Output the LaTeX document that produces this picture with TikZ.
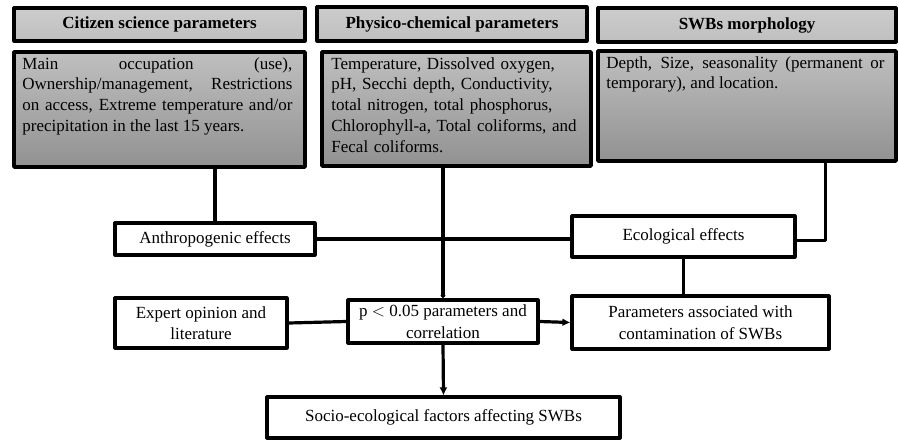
\documentclass[tikz,border=0pt]{standalone}
\usepackage{fontspec}
\setmainfont{Liberation Serif}
\usetikzlibrary{calc}
\usetikzlibrary{arrows.meta}

\begin{document}
\begin{tikzpicture}[x=1pt, y=-1pt, line cap = round, line join = round, >={Latex[length=8pt, width=8pt]}]
\tikzstyle{headbox}=[draw=black, line width=3.2pt, top color=gray!40, bottom color=gray!50, inner sep=0pt, font=\fontsize{17}{20}\selectfont\bfseries]
\tikzstyle{bodybox}=[draw=black, line width=3.6pt, top color=gray!50, bottom color=gray!86, inner sep=0pt]
\tikzstyle{bodytext}=[anchor=north west, inner sep=0pt, font=\fontsize{17}{20.8}\selectfont]
\tikzstyle{stepbox}=[draw=black, line width=3.2pt, fill=white, inner sep=0pt, align=center, font=\fontsize{17}{21.5}\selectfont]
\tikzstyle{link}=[line width=3.2pt, color=black]
\useasboundingbox (0,0) rectangle (899,439);

% top row
\node[headbox, minimum width=291, minimum height=33] (hcit) at (159.5,24.5) {Citizen science parameters};
\node[headbox, minimum width=270, minimum height=34] (hphy) at (452,24) {Physico-chemical parameters};
\node[headbox, minimum width=298, minimum height=34] (hswb) at (747,25) {SWBs morphology};

\node[bodybox, minimum width=291, minimum height=115] (bcit) at (159.5,109.5) {};
\node[bodybox, minimum width=269, minimum height=114] (bphy) at (456.5,109) {};
\node[bodybox, minimum width=298, minimum height=110] (bswb) at (747,106) {};

\node[bodytext, text width=270, align=justify] (tcit) at ([xshift=10, yshift=-7]bcit.north west)
  {Main occupation (use),\linebreak Ownership/management, Restrictions\linebreak on access, Extreme temperature and/or\linebreak precipitation in the last 15 years.};
\node[bodytext, text width=255, align=left] (tphy) at ([xshift=11, yshift=-7]bphy.north west)
  {Temperature, Dissolved oxygen,\\ pH, Secchi depth, Conductivity,\\ total nitrogen, total phosphorus,\\ Chlorophyll-a, Total coliforms, and\\ Fecal coliforms.};
\node[bodytext, text width=278, align=justify] (tswb) at ([xshift=10, yshift=-7]bswb.north west)
  {Depth, Size, seasonality (permanent or\linebreak temporary), and location.};

% effects and results
\node[stepbox, minimum width=200, minimum height=32] (anthro) at (215,239) {Anthropogenic effects};
\node[stepbox, minimum width=223, minimum height=41] (ecol) at (683.5,236.5) {Ecological effects};
\node[stepbox, minimum width=172, minimum height=50] (expert) at (201,323) {Expert opinion and\\ literature};
\node[stepbox, minimum width=190, minimum height=43] (pval) at (443,321.5) {p $<$ 0.05 parameters and\\ correlation};
\node[stepbox, minimum width=257, minimum height=53] (contam) at (700.5,322.5) {Parameters associated with\\ contamination of SWBs};
\node[stepbox, minimum width=353, minimum height=41] (socio) at (443.5,417.5) {Socio-ecological factors affecting SWBs};

\coordinate (S) at ($ (bswb.south west) !.76! (bswb.south east) $);

\draw[link] (anthro.north |- bcit.south) -- (anthro.north);
\draw[link] (anthro.east) -- (anthro.east -| ecol.west);
\draw[link, -{Latex[length=3pt, width=6pt]}] (pval.north |- bphy.south) -- (pval.north);
\draw[link] (S) |- ([yshift=-4]ecol.east);
\draw[link] (ecol.south) -- (ecol.south |- contam.north);
\draw[link] (expert.east) -- (pval.west);
\draw[link, ->] (pval.east) -- (contam.west);
\draw[link, ->] (pval.south) -- (socio.north);
\end{tikzpicture}
\end{document}
